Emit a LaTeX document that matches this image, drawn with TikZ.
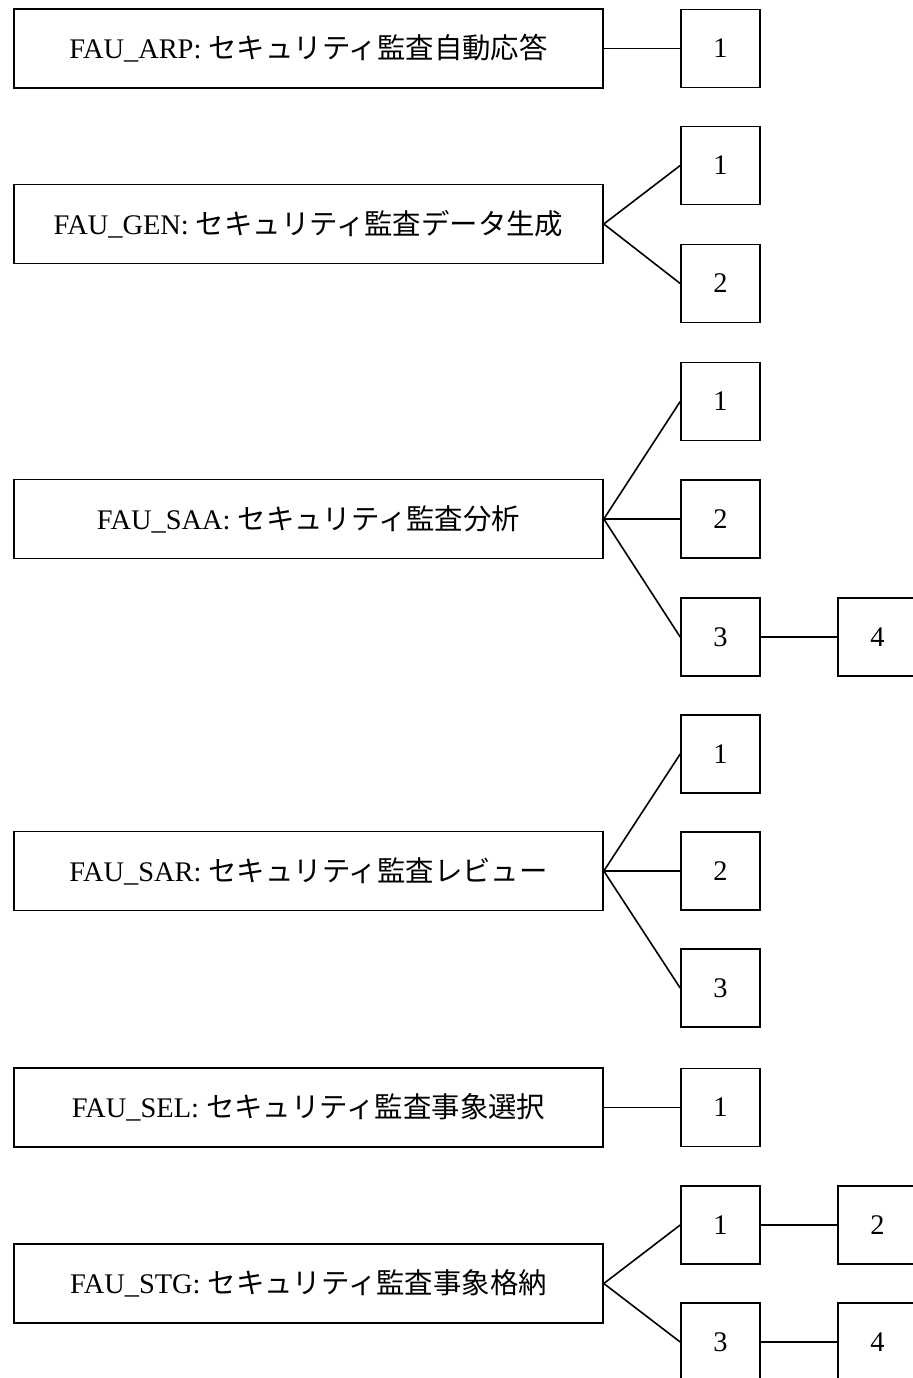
\documentclass[tikz,border=0pt]{standalone}
\usepackage{fontspec}
\setmainfont{Liberation Serif}
\newfontfamily\cjk{Noto Sans CJK JP}
\tikzset{
  fam/.style = {draw, minimum width = 294.5pt, minimum height = 39.5pt,
  inner sep = 0pt},
  cmp/.style = {draw, minimum width = 39.5pt, minimum height = 39pt,
  inner sep = 0pt},
}
\begin{document}
\begin{tikzpicture}[x = .5pt, y = -.5pt, line width = .8pt,
  font = \fontsize{14.2pt}{16pt}\selectfont]
  \clip (0, 0) rectangle (913, 1378);
  % FAU_ARP
  \node[fam] (arp) at (308.5, 48.5) {FAU\_ARP: {\cjk セキュリティ監査自動応答}};
  \node[cmp] (arp1) at (720.5, 48.5) {1};
  \draw (arp.east) -- (arp1.west);
  % FAU_GEN
  \node[fam] (gen) at (308.5, 224) {FAU\_GEN: {\cjk セキュリティ監査データ生成}};
  \node[cmp] (gen1) at (720.5, 165.5) {1};
  \node[cmp] (gen2) at (720.5, 283.5) {2};
  \draw (gen.east) -- (gen1.west);
  \draw (gen.east) -- (gen2.west);
  % FAU_SAA
  \node[fam] (saa) at (308.5, 519) {FAU\_SAA: {\cjk セキュリティ監査分析}};
  \node[cmp] (saa1) at (720.5, 401.5) {1};
  \node[cmp] (saa2) at (720.5, 519) {2};
  \node[cmp] (saa3) at (720.5, 637) {3};
  \node[cmp] (saa4) at (877.5, 637) {4};
  \draw (saa.east) -- (saa1.west);
  \draw (saa.east) -- (saa2.west);
  \draw (saa.east) -- (saa3.west);
  \draw (saa3.east) -- (saa4.west);
  % FAU_SAR
  \node[fam] (sar) at (308.5, 871) {FAU\_SAR: {\cjk セキュリティ監査レビュー}};
  \node[cmp] (sar1) at (720.5, 754) {1};
  \node[cmp] (sar2) at (720.5, 871) {2};
  \node[cmp] (sar3) at (720.5, 988) {3};
  \draw (sar.east) -- (sar1.west);
  \draw (sar.east) -- (sar2.west);
  \draw (sar.east) -- (sar3.west);
  % FAU_SEL
  \node[fam] (sel) at (308.5, 1107.5) {FAU\_SEL: {\cjk セキュリティ監査事象選択}};
  \node[cmp] (sel1) at (720.5, 1107.5) {1};
  \draw (sel.east) -- (sel1.west);
  % FAU_STG
  \node[fam] (stg) at (308.5, 1283.5) {FAU\_STG: {\cjk セキュリティ監査事象格納}};
  \node[cmp] (stg1) at (720.5, 1225) {1};
  \node[cmp] (stg2) at (877.5, 1225) {2};
  \node[cmp] (stg3) at (720.5, 1342) {3};
  \node[cmp] (stg4) at (877.5, 1342) {4};
  \draw (stg.east) -- (stg1.west);
  \draw (stg.east) -- (stg3.west);
  \draw (stg1.east) -- (stg2.west);
  \draw (stg3.east) -- (stg4.west);
\end{tikzpicture}
\end{document}
